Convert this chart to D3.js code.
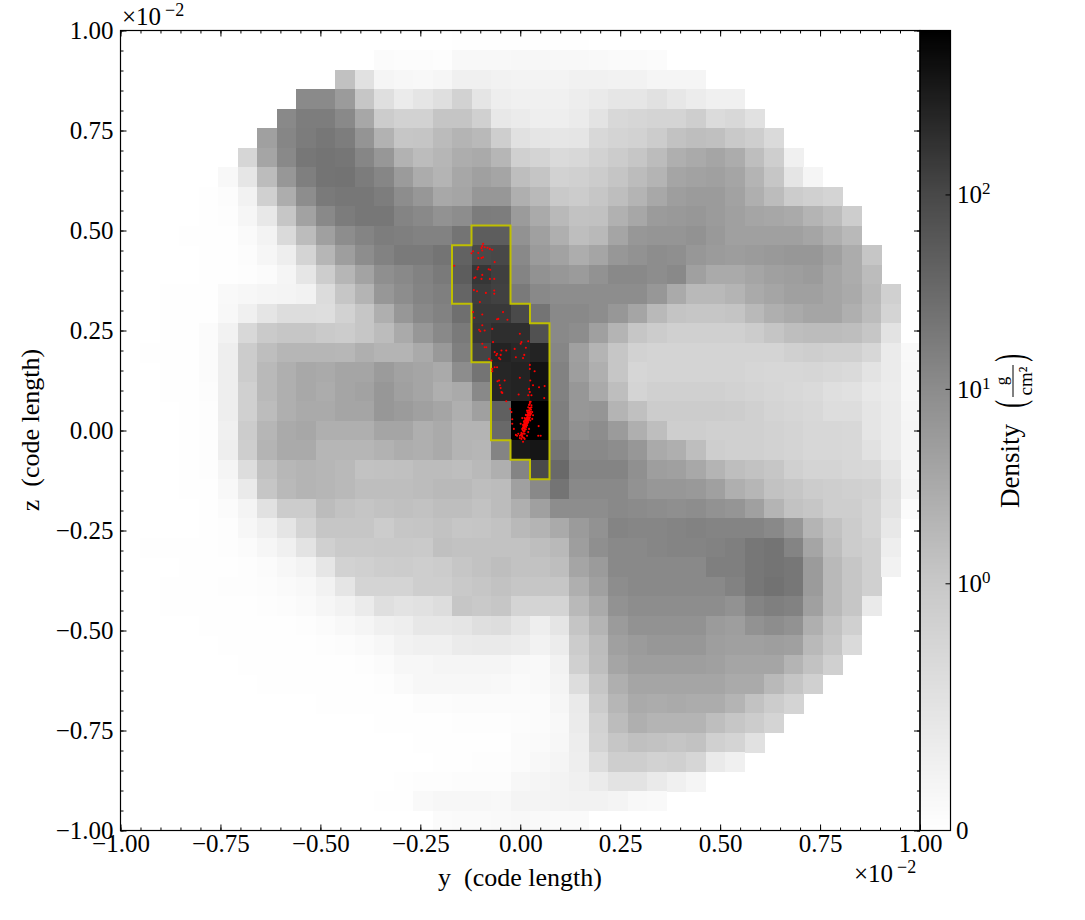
<!DOCTYPE html>
<html><head><meta charset="utf-8">
<script src="https://cdn.jsdelivr.net/npm/d3@7/dist/d3.min.js"></script>
<style>
html,body{margin:0;padding:0;background:#fff}
text{font-family:"Liberation Serif",serif;fill:#000}
</style></head><body>
<svg id="c" width="1085" height="920"></svg>
<script>
// first column of each row (rows run top to bottom, z = +1 to z = -1)
const rowStart=[17,13,11,9,8,7,6,5,4,4,3,4,4,2,2,2,1,2,2,3,3,3,3,3,4,4,1,3,2,2,4,5,6,7,10,13,15,16,14,13,16];
// projected density (g/cm^2)
const density=[
[.02,.02,.02,.02,.02,.02,.02],
[.09,.07,.07,.05,.15,.15,.15,.16,.16,.15,.15,.13,.11,.11,.09],
[1.9,.64,.2,.16,.15,.18,.31,.31,.27,.25,.25,.25,.29,.29,.27,.27,.22,.22,.2],
[16,16,8.3,1.5,.67,.42,.55,.67,.96,.56,.36,.31,.31,.31,.38,.45,.53,.53,.64,.51,.4,.31,.31],
[16.5,24.5,24.5,16.5,5.2,1.2,.95,.95,1.6,1.6,1,.49,.42,.36,.36,.42,.6,.82,.87,.91,.91,1.08,.77,.82,.64],
[6.8,18,25,29,24.5,11,3.4,1.5,1.6,2.4,3.2,2.6,1.08,.64,.55,.53,.56,.82,.91,.95,1.2,1.8,2.15,2,1.36,1.08,.78],
[.87,5.6,16.5,29,32,30,18.5,10,3.4,2.3,2.9,4.1,4.6,2.9,1,.91,.78,.82,.96,1.2,1.5,2.3,3.8,4.6,5.6,4.3,2.15,1.08,.31],
[.15,.53,2.3,10,23,32,33,25,18,8.3,4.3,3.2,5.2,6.8,5.6,2.15,1.6,.95,1,1.2,1.6,2.3,3.2,5.6,6.3,6.8,5.6,3.2,1.5,.56,.22],
[.02,.07,.27,1,4.1,14,27,29,29,24.5,14,10,5,5.6,10,10,3.8,2.6,1.36,1.2,1.5,2.15,3.2,5,7.4,8.3,8.3,6.3,3.8,2.3,1.2,1,.91],
[.02,.05,.18,.49,1.5,6.3,16.5,25,29,29,19.6,16.5,12,14,25,24.5,8.3,4.6,2.6,1.8,1.9,3.5,5.2,8.3,9,10,8.3,6.8,5.6,5.2,4.6,3.2,2.3,1.12],
[.02,.02,.03,.11,.25,.78,2.3,6.8,14,19.6,24.5,23,21,21,32,63,63,12,6.8,3.8,2.15,2.6,5.6,10,10.7,10.7,12,9.2,6.8,6.8,6.8,6.8,5.6,3.8,2.6],
[.02,.03,.07,.18,.35,.91,2.9,7.4,14,21,27,27,32,54,105,110,16.5,8.3,6.3,4.1,5.6,10,12,14,13,10,8.3,7.6,8.3,9.2,10,10,6.8,4.3,1.5],
[.02,.03,.05,.09,.2,.53,1.12,2.9,6,13,16.5,21,27,63,170,138,19.6,12,10,8.3,12,16.5,16.5,14,16.5,6.8,4.6,4.6,5.6,6.8,7.4,8.3,5.6,4.3,2.3],
[.02,.02,.03,.13,.16,.2,.24,.27,.75,1.5,3.2,10,14,19.6,23,50,145,130,27,16.5,14,14,14,14,14,10,4.6,2.6,2.6,3.2,4.6,5.6,6.8,6.8,5.6,4.6,2.6,1],
[.02,.02,.03,.15,.31,.55,.73,.73,.71,.95,1.5,3.8,10,16.5,21,38,158,158,105,32,16.5,16.5,14,10,5.6,2.6,1.65,1.5,1.5,1.65,2.6,3.8,4.6,5.6,5.6,3.8,2.3,.91],
[.02,.02,.09,.27,.82,1.3,1.5,1.5,1.3,1.2,1.5,2.3,4.6,10,16.5,27,170,205,205,89,16.5,14,6.8,3.2,1.5,1.2,1,1,1,1,1.2,1.6,2.15,2.3,2.3,2.15,1.5,.6],
[.02,.02,.02,.09,.35,1.2,2.15,2.9,2.9,2.9,2.8,3.8,3.2,3.2,4.6,9,23,122,270,237,270,18.5,6.8,3.2,1.5,.96,.91,.91,.91,.91,.91,.91,.91,1,1.08,1,1,.85,.42,.13],
[.02,.02,.09,.36,1.2,2.6,3.8,5,4.6,5.6,5.6,8.3,6.3,5.6,4.6,14,32,250,270,430,21,7.4,3.8,1.5,.87,.91,.91,.91,.91,.91,.87,.85,.85,.87,.82,.78,.6,.42,.15],
[.02,.02,.07,.35,1,2.6,3.8,5,4.3,5.6,6.3,10,6.8,5.6,3.8,4.6,16.5,250,270,430,21,10,4.6,2.15,.91,1,1,1,1,.95,.91,.87,.82,.78,.67,.64,.49,.4,.15],
[.02,.05,.35,1,2.3,3.8,4.6,4.6,5.6,5.6,10,8.3,6.8,5.6,3.8,6.8,57,697,697,23,10,10.7,3.2,2,1.2,1.2,1.2,1.2,1.12,1,.91,.87,.82,.73,.73,.55,.42,.18],
[.02,.05,.31,1.2,2.9,4.6,5.2,3.8,3.8,3.8,5.6,5.6,3.8,4.6,3.2,3.2,45,697,697,23,12,14,8.3,3.8,2.15,1.08,1.08,1,1,1,.96,.91,.85,.85,.82,.55,.42,.22],
[.02,.05,.35,1.08,3.2,4.6,4.6,2.9,2.9,2.9,3.4,4.1,3.8,4.6,3.2,2.9,19.6,357,385,32,16.5,16.5,14,10,4.6,3.8,2.15,1.08,1,1,.95,.91,.85,.85,.82,.64,.42,.22],
[.02,.05,.22,.73,1.9,2.8,3.2,2.9,2.6,1.8,1.9,2,2.3,2.3,2.15,2.6,3.8,19.6,105,45,19.6,19.6,19.6,12.7,7.4,6.8,5,3.2,2.15,1.8,1.5,1,.91,.91,.85,.82,.55,.18],
[.02,.03,.15,.45,1.5,2.6,3.2,2.9,2.6,2.15,2.15,2.15,2.3,2.6,2.6,2.15,2.3,6.8,16.5,32,16.5,16.5,16.5,12,10,10,9.2,6.8,3.8,2.9,1.8,1.5,1.2,1.08,1,.96,.64,.24],
[.03,.09,.24,.64,1.2,1.2,2.3,1.8,1.6,1.8,2,1.8,2.15,2.15,1.8,2.3,3.8,6.8,14,14,14,16.5,15,14,13,14,12,10.7,6.8,3.2,1.8,1.5,1.08,1.08,.91,.6,.09],
[.03,.05,.16,.31,.55,.91,1.5,1.5,1.5,1.2,1.5,1.6,1.8,1.5,1.6,1.8,2.6,3.2,4.6,8.3,12,19.6,18.5,18.5,19.6,21,19.6,19.6,19.6,16.5,10,3.2,1.8,1.2,.91,.49],
[.02,.02,.02,.03,.05,.09,.18,.31,.6,1,1.3,1.3,1.36,1.36,1.3,2,1.8,1.8,1.8,1.8,2.15,2.6,7.4,13,16.5,16.5,18.5,19.6,19.6,21,23,29,32,19.6,5.6,2.15,1.2,1,.36],
[.02,.02,.03,.05,.09,.16,.25,.53,.96,1,1.12,1.2,1.08,1.2,1.5,1.8,2.15,1.8,1.8,2.15,5.6,8.3,16.5,16.5,16.5,16.5,16.5,23,23,29,32,29,8.3,2.6,1.5,1,.27],
[.02,.02,.02,.05,.05,.07,.11,.15,.27,.55,.91,.91,.91,1.08,1.08,1.36,1.5,1.8,1.5,1.5,1.5,3.8,6.8,14,16.5,16.5,16.5,16.5,16.5,21,29,34,29,8.3,2.6,1.5,1],
[.02,.02,.02,.03,.03,.05,.07,.11,.18,.27,.42,.67,.6,.64,.73,1.5,1.36,1.5,.91,.91,.91,2.6,4.6,12,14,14,14,14,14,12,19.6,23,21,6.8,2.6,1.5,.45],
[.02,.02,.02,.03,.03,.05,.09,.15,.2,.31,.36,.51,.51,.55,.67,.73,.55,.36,.55,1.6,3.2,8.3,12,12,12,12,8.3,7.4,12,14,12,3.8,1.8,1],
[.02,.02,.02,.02,.03,.05,.07,.11,.16,.27,.31,.31,.42,.45,.45,.4,.27,.4,1.2,2.3,6.8,8.3,10,10,10,7.4,6.8,6.8,7.4,6.8,2.6,1.5,.78],
[.02,.02,.02,.02,.03,.03,.05,.09,.16,.16,.22,.22,.22,.2,.15,.13,.27,1,2.15,5.6,7.4,7.4,7.4,7.4,6.8,5.6,5.6,5.6,3.2,1.8,1],
[.02,.02,.02,.02,.03,.03,.05,.11,.16,.16,.16,.16,.15,.11,.13,.24,.73,1.5,3.8,5.6,5.6,5.6,5.6,5.6,4.6,4.6,2.6,1.6,1],
[.02,.02,.02,.03,.03,.07,.07,.09,.09,.09,.09,.09,.18,.45,1.2,2.9,4.6,4.3,4.6,4.3,4.3,3.2,1.8,1.2,.91],
[.02,.02,.03,.03,.05,.05,.05,.07,.09,.15,.42,.95,2.3,3.8,3.2,3.2,3.2,2.15,1.5,1.2,.91],
[.02,.02,.03,.03,.03,.09,.11,.16,.38,.91,1.5,2,1.8,1.6,1.8,1,.91,.64],
[.02,.03,.05,.05,.09,.15,.22,.35,.73,1.08,1.08,.96,1,.87,.45,.31],
[.03,.05,.05,.07,.07,.07,.16,.2,.25,.31,.42,.6,.6,.45,.31,.2],
[.02,.03,.13,.16,.16,.16,.15,.24,.24,.25,.27,.27,.24,.15,.13],
[.09,.11,.11,.13,.15,.13,.11,.11]
];
// clump outline: for a range of rows, first and last column inside
const clumpRows=[10,11,12,13,14,15,16,17,18,19,20,21,22];
const clumpFirst=[18,17,17,17,18,18,18,19,19,19,19,20,21];
const clumpLast =[19,19,19,19,20,21,21,21,21,21,21,21,21];
// particles, in units of 1e-2 code length
const particleY=[-.093,-.095,-.097,-.089,-.082,-.076,-.070,-.118,-.122,-.095,-.105,-.093,-.097,-.105,-.064,-.165,-.105,-.107,-.079,-.075,-.115,-.112,-.097,-.076,-.065,-.095,-.116,-.108,-.086,-.065,-.065,-.101,-.118,-.043,-.115,-.095,-.055,-.058,-.032,-.095,-.070,-.103,-.100,-.089,-.001,.003,.001,.020,-.095,-.089,-.085,-.068,.014,-.014,-.035,-.064,-.058,-.047,-.049,-.060,-.053,-.050,.010,-.011,.007,-.078,-.072,.024,.024,-.064,-.070,-.058,-.070,.036,-.001,.025,-.039,-.053,-.057,-.051,-.049,-.047,-.045,-.004,.047,.032,.061,.022,.024,.020,.028,.060,-.035,-.025,-.022,-.020,.046,.051,.045,
.024,.022,.028,.020,.025,.017,.024,.030,.020,.014,.025,.018,.011,.022,.015,.009,.020,.014,.007,.017,.011,.005,.014,.009,.003,.011,-.001,-.008,.005,-.001,.011,.007,.017,.025,.032,.030,.005,.001,-.005,-.011,-.016,-.020,.022,.020,.028,.015,.020,.012,.019,.009,.015,.024,.027,.021,.018,.014,.017,.010,.007,.012,
.021,.023,.026,.019,.022,.025,.018,.021,.023,.016,.019,.021,.013,.016,.018,.012,.016,.018,.011,.013,.016,.009,.012,.015,.008,.010,.012,.006,.008,.011,.004,.007,.002,.005,.009,.003,.026,.023,.027,.022,.024,.026];
const particleZ=[.467,.461,.456,.458,.457,.454,.452,.448,.443,.450,.444,.433,.431,.431,.421,.412,.408,.403,.403,.402,.381,.383,.379,.379,.379,.389,.351,.348,.344,.350,.342,.321,.296,.296,.282,.290,.279,.278,.277,.263,.254,.252,.248,.250,.242,.221,.217,.223,.217,.208,.208,.221,.207,.204,.200,.196,.192,.200,.189,.188,.181,.178,.189,.183,.181,.179,.175,.164,.154,.158,.154,.158,.148,.148,.132,.125,.125,.125,.123,.113,.106,.096,.094,.090,.108,.113,.111,.104,.096,.088,.088,.081,.073,.054,.046,.028,.011,-.013,-.013,
.071,.064,.058,.058,.053,.050,.046,.046,.042,.039,.038,.033,.031,.029,.025,.023,.021,.017,.014,.013,.008,.004,.003,-.003,-.006,-.008,-.013,-.013,-.014,-.019,-.021,-.028,-.013,.025,.038,.029,.031,.017,-.008,-.011,.004,.017,.004,-.004,.063,.038,.038,.025,.028,.011,.019,.033,.042,.050,.046,.029,.023,.019,.008,.014,
.045,.043,.047,.040,.038,.041,.036,.033,.031,.031,.030,.026,.027,.027,.025,.021,.021,.018,.016,.014,.015,.013,.010,.009,.006,.005,.003,.001,-.001,-.001,-.009,-.008,-.011,-.016,-.018,-.021,.057,.056,.052,.050,.067,.072];
const xTicks=[-1,-.75,-.5,-.25,0,.25,.5,.75,1];
const yTicks=[-1,-.75,-.5,-.25,0,.25,.5,.75,1];
const barTicks=[1,10,100];
const barExponents=["0","1","2"];
const densityMax=697;

const svg=d3.select("#c");
const x=d3.scaleLinear([-1,1],[120.5,920]);
const y=d3.scaleLinear([-1,1],[830.5,30.5]);
const nCells=41, cell=2/nCells;
const linPart=d3.scaleLinear([0,1],[0,.309]);
const logPart=d3.scaleLog([1,densityMax],[.309,1]);
const pos=v=>v<=1?linPart(v):logPart(v);
const grey=d3.scaleLinear([0,.309,.552,.795,1],[255,200,140,72,0]);
// my grey readings of the cells ran dark: this undoes that reading bias
const readingBias=d3.scaleLinear([255,240,220,200,180,150,120,100,70,40,0],[255,242,225,208,190,160,132,110,74,40,0]);
const cellColour=v=>{const g=Math.round(readingBias(grey(pos(v))));return d3.rgb(g,g,g).formatHex();};
const barY=d3.scaleLinear([0,1],[830.5,30.5]);

const cells=[];
density.forEach((row,r)=>row.forEach((v,i)=>cells.push({r,c:rowStart[r]+i,v})));
svg.append("g").attr("shape-rendering","crispEdges").selectAll("rect").data(cells).join("rect")
 .attr("x",d=>x(-1+d.c*cell)).attr("width",d=>x(-1+(d.c+1)*cell)-x(-1+d.c*cell)+.5)
 .attr("y",d=>y(1-d.r*cell)).attr("height",d=>y(1-(d.r+1)*cell)-y(1-d.r*cell)+.5)
 .attr("fill",d=>cellColour(d.v));

// clump outline from cell edges
const inClump=(r,c)=>{const i=clumpRows.indexOf(r);return i>=0&&c>=clumpFirst[i]&&c<=clumpLast[i];};
const clumpPath=d3.path();
clumpRows.forEach((r,i)=>{for(let c=clumpFirst[i];c<=clumpLast[i];c++){
 const x0=x(-1+c*cell),x1=x(-1+(c+1)*cell),y0=y(1-r*cell),y1=y(1-(r+1)*cell);
 if(!inClump(r-1,c)){clumpPath.moveTo(x0,y0);clumpPath.lineTo(x1,y0);}
 if(!inClump(r+1,c)){clumpPath.moveTo(x0,y1);clumpPath.lineTo(x1,y1);}
 if(!inClump(r,c-1)){clumpPath.moveTo(x0,y0);clumpPath.lineTo(x0,y1);}
 if(!inClump(r,c+1)){clumpPath.moveTo(x1,y0);clumpPath.lineTo(x1,y1);}
}});
svg.append("path").attr("d",clumpPath.toString()).attr("fill","none").attr("stroke","#bfbf00").attr("stroke-width",2).attr("stroke-linecap","square");

svg.append("g").selectAll("circle").data(particleY).join("circle")
 .attr("cx",d=>x(d)).attr("cy",(d,i)=>y(particleZ[i])).attr("r",1.05).attr("fill","#f00");

// colour bar
const barSteps=d3.range(0,1,1/400);
svg.append("g").attr("shape-rendering","crispEdges").selectAll("rect").data(barSteps).join("rect")
 .attr("x",920).attr("width",30.5).attr("y",d=>barY(d+1/400)).attr("height",2.6)
 .attr("fill",d=>{const g=grey(d+1/800);return d3.rgb(g,g,g).formatHex();});

// axes
const minor=d3.range(-20,21).map(i=>i*.05);
const size=25;
function ax(gen,tx,ty,vals,len,fmt,pad){
 const g=svg.append("g").attr("transform",`translate(${tx},${ty})`)
  .call(gen.tickValues(vals).tickSize(-len).tickPadding(pad||0).tickFormat(fmt||(()=>"")));
 g.select(".domain").remove();
 g.selectAll("line").attr("stroke","#000").attr("stroke-width",1);
 g.selectAll("text").attr("font-family","Liberation Serif").attr("font-size",size);
 return g;
}
const fmt=d=>d3.format(".2f")(d).replace("-","\u2212");
ax(d3.axisBottom(x),0,830.5,minor,3);
ax(d3.axisBottom(x),0,830.5,xTicks,6,fmt,4);
ax(d3.axisTop(x),0,30.5,minor,3);
ax(d3.axisTop(x),0,30.5,xTicks,6);
ax(d3.axisLeft(y),120.5,0,minor,3);
ax(d3.axisLeft(y),120.5,0,yTicks,6,fmt,7);
ax(d3.axisRight(y),920,0,minor,3);
ax(d3.axisRight(y),920,0,yTicks,6);
ax(d3.axisRight(barY),950.5,0,barTicks.map(pos),5);

svg.append("rect").attr("x",120.5).attr("y",30.5).attr("width",799.5).attr("height",800).attr("fill","none").attr("stroke","#000").attr("stroke-width",1.2);
svg.append("rect").attr("x",920).attr("y",30.5).attr("width",30.5).attr("height",800).attr("fill","none").attr("stroke","#000").attr("stroke-width",1.2);

function txt(px,py,s,fs,anchor){return svg.append("text").attr("x",px).attr("y",py).attr("font-size",fs).attr("text-anchor",anchor||"start").text(s);}
// colour-bar labels
barTicks.forEach((t,i)=>{const py=barY(pos(t))+9;
 txt(957,py,"10",size);
 txt(982,py-9,barExponents[i],17);
});
txt(956,839,"0",size);
// offsets
function offset(px,py){
 txt(px,py,"\u00d710",size);
 txt(px+43,py-9,"\u22122",18);
}
offset(122,25);
offset(854,882);
// axis titles
txt(520,886,"y  (code length)",26,"middle").attr("xml:space","preserve");
svg.append("text").attr("transform","translate(39,430) rotate(-90)").attr("text-anchor","middle").attr("font-size",26).attr("xml:space","preserve").text("z  (code length)");
// colour-bar title
const t=svg.append("g").attr("transform","translate(1019,0) rotate(-90)");
const tt=(py,dx,s,fs,a)=>t.append("text").attr("x",-py).attr("y",dx).attr("font-size",fs).attr("text-anchor",a||"middle").text(s);
tt(466,0,"Density",27);
tt(381,-12,"g",17);
tt(381,13,"cm\u00b2",19);
t.append("line").attr("x1",-397).attr("x2",-365).attr("y1",-6).attr("y2",-6).attr("stroke","#000").attr("stroke-width",1);
const paren=(py,s)=>t.append("text").attr("transform",`translate(${-py},5) scale(.55,1)`).attr("font-size",42).attr("text-anchor","middle").text(s);
paren(404,"(");
paren(358,")");
</script></body></html>
